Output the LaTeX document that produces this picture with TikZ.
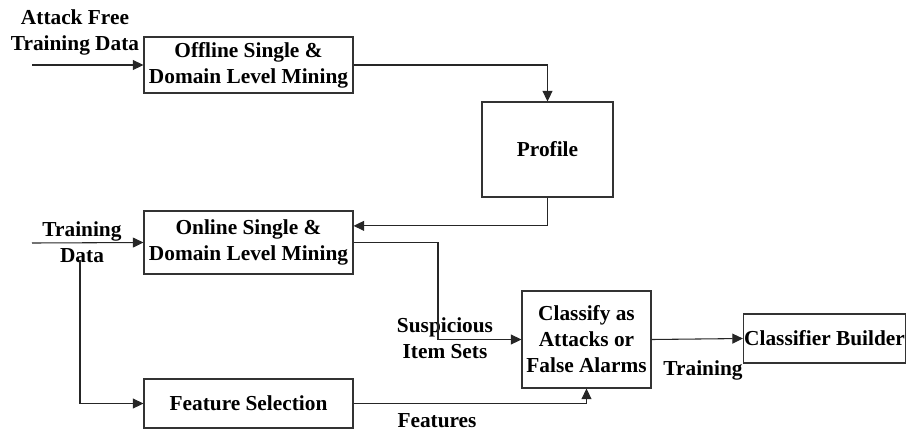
\documentclass[tikz,border=0pt]{standalone}
\usepackage{fontspec}
\setmainfont{Liberation Serif}
\usetikzlibrary{arrows.meta,calc}
\begin{document}
\begin{tikzpicture}[x=0.75pt,y=-0.75pt,
  txt/.style={font=\bfseries\fontsize{16}{19.5}\selectfont,align=center,inner sep=0pt},
  box/.style={txt,draw=black!80,line width=0.8pt},
  lbl/.style={txt},
  ln/.style={draw=black!85,line width=0.8pt},
  arr/.style={ln,-{Triangle[length=8pt,width=7.5pt]}}]
\useasboundingbox (0,0) rectangle (906,433);

% process boxes
\node[box,minimum width=156.75pt,minimum height=42pt]    (off)  at (248.5,65)    {Offline Single \&\\Domain Level Mining};
\node[box,minimum width=98.25pt,minimum height=71.25pt]  (prof) at (547.5,149.5) {Profile};
\node[box,minimum width=156.75pt,minimum height=47.25pt] (onl)  at (248.5,242.5) {Online Single \&\\Domain Level Mining};
\node[box,minimum width=96.75pt,minimum height=72.75pt]  (cls)  at (586.5,339.5) {Classify as\\Attacks or\\False Alarms};
\node[box,minimum width=121.5pt,minimum height=36.75pt]  (cb)   at (824.5,338.5) {Classifier Builder};
\node[box,minimum width=156.75pt,minimum height=36.75pt] (feat) at (248.5,403.5) {Feature Selection};

% edge labels
\node[lbl] (lafd) at (75,32)   {Attack Free\\Training Data};
\node[lbl] (ltd)  at (82,242)  {Training\\Data};
\node[lbl] (lsis) at (445,338) {Suspicious\\Item Sets};
\node[lbl] (ltr)  at (703,370) {Training};
\node[lbl] (lft)  at (437,421) {Features};

% free ends and bends
\coordinate (in1) at (32,65);
\coordinate (in2) at (32,243);
\coordinate (br)  at (80,260);
\coordinate (sx)  at (438,300);

% connectors
\draw[arr] (in1) -- (off.west);
\draw[arr] (off.east) -| (prof.north);
\draw[arr] (prof.south) |- ($(onl.north east)!0.24!(onl.south east)$);
\draw[arr] (in2) -- (onl.west);
\draw[arr] (onl.east) -| (sx) |- (cls.west);
\draw[arr] (br) |- (feat.west);
\draw[arr] (feat.east) -| (cls.south);
\draw[arr] (cls.east) -- (cb.west);
\end{tikzpicture}
\end{document}
